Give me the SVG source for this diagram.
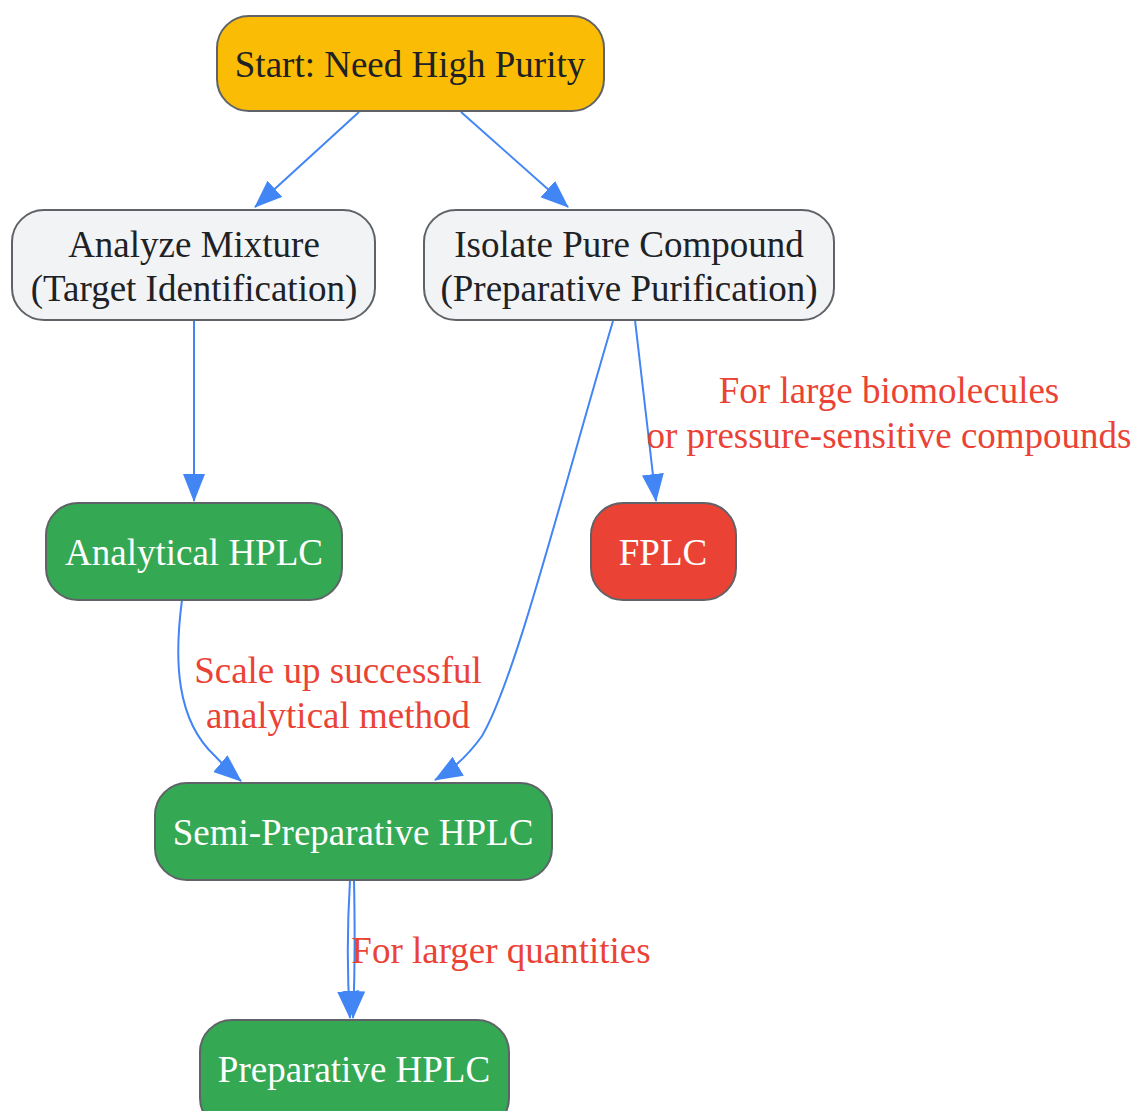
<svg xmlns="http://www.w3.org/2000/svg" width="1137" height="1111" viewBox="0 0 1137 1111">
<style>
.n{stroke:#5f6368;stroke-width:2}
.t{font-family:"Liberation Serif","Times New Roman",serif;font-size:37px;text-anchor:middle}
.dk{fill:#202124}
.wt{fill:#ffffff}
.lb{font-family:"Liberation Serif","Times New Roman",serif;font-size:37px;fill:#EA4335;text-anchor:middle}
.e{fill:none;stroke:#4285F4;stroke-width:2}
</style>
<defs>
<marker id="ah" markerUnits="userSpaceOnUse" markerWidth="30" markerHeight="24" refX="27" refY="11" orient="auto">
<path d="M0,0 L28,11 L0,22 z" fill="#4285F4"/>
</marker>
</defs>
<rect width="1137" height="1111" fill="#ffffff"/>
<g id="connectors">
<path class="e" d="M359,112 L255,207" marker-end="url(#ah)"/>
<path class="e" d="M461,112 L568,207" marker-end="url(#ah)"/>
<path class="e" d="M194,320 L194,501" marker-end="url(#ah)"/>
<path class="e" d="M635,320 L656,501" marker-end="url(#ah)"/>
<path class="e" d="M613,321 C560,500 515,680 482,736 Q462,764 435,780" marker-end="url(#ah)"/>
<path class="e" d="M182,600 C174,660 176,720 215,756 Q228,770 241,781" marker-end="url(#ah)"/>
<path class="e" d="M350,880 C347,930 347,975 350,1018" marker-end="url(#ah)"/>
<path class="e" d="M354,880 C355,930 355,975 353,1018" marker-end="url(#ah)"/>
</g>
<g id="labels">
<text class="lb" x="889" y="403">For large biomolecules</text>
<text class="lb" x="889" y="448">or pressure-sensitive compounds</text>
<text class="lb" x="338" y="683">Scale up successful</text>
<text class="lb" x="338" y="728">analytical method</text>
<text class="lb" x="501" y="963">For larger quantities</text>
</g>
<g id="start">
<rect class="n" x="217" y="16" width="387" height="95" rx="32" fill="#FBBC05"/>
<text class="t dk" x="410" y="77">Start: Need High Purity</text>
</g>
<g id="analyze">
<rect class="n" x="12" y="210" width="363" height="110" rx="32" fill="#F1F3F4"/>
<text class="t dk" x="194" y="257">Analyze Mixture</text>
<text class="t dk" x="194" y="301">(Target Identification)</text>
</g>
<g id="isolate">
<rect class="n" x="424" y="210" width="410" height="110" rx="32" fill="#F1F3F4"/>
<text class="t dk" x="629" y="257">Isolate Pure Compound</text>
<text class="t dk" x="629" y="301">(Preparative Purification)</text>
</g>
<g id="analytical">
<rect class="n" x="46" y="503" width="296" height="97" rx="32" fill="#34A853"/>
<text class="t wt" x="194" y="565">Analytical HPLC</text>
</g>
<g id="fplc">
<rect class="n" x="591" y="503" width="145" height="97" rx="32" fill="#EA4335"/>
<text class="t wt" x="663" y="565">FPLC</text>
</g>
<g id="semiprep">
<rect class="n" x="155" y="783" width="397" height="97" rx="32" fill="#34A853"/>
<text class="t wt" x="353" y="845">Semi-Preparative HPLC</text>
</g>
<g id="prep">
<rect class="n" x="200" y="1020" width="309" height="110" rx="32" fill="#34A853"/>
<text class="t wt" x="354" y="1082">Preparative HPLC</text>
</g>
</svg>
